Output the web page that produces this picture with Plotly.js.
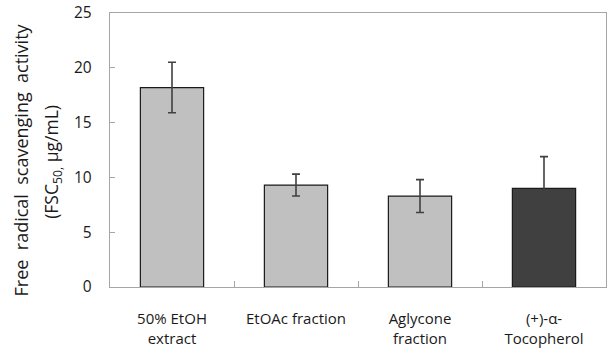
<!DOCTYPE html>
<html>
<head>
<meta charset="utf-8">
<script src="https://cdn.plot.ly/plotly-3.0.1.min.js"></script>
<style>html,body{margin:0;padding:0;background:#fff;}#chart{width:607px;height:351px;}</style>
</head>
<body>
<div id="chart"></div>
<script>
var categories = ["50% EtOH<br>extract", "EtOAc fraction", "Aglycone<br>fraction", "(+)-α-<br>Tocopherol"];
var values = [18.2, 9.3, 8.3, 9.0];
var errors = [2.3, 1.0, 1.5, 2.9];
var barColors = ["#c0c0c0", "#c0c0c0", "#c0c0c0", "#404040"];
var yTicks = [0, 5, 10, 15, 20, 25];
var titleLine1 = "Free  radical  scavenging  activity";
var titleLine2 = "(FSC<sub>50,</sub> μg/mL)";

var font = "Open Sans, Noto Sans, sans-serif";
var trace = {
  type: "bar",
  x: categories,
  y: values,
  marker: {color: barColors, line: {color: "#1a1a1a", width: 1.2}},
  error_y: {type: "data", array: errors, visible: true, color: "#404040", thickness: 1.6, width: 4},
  hoverinfo: "none"
};
var layout = {
  width: 607, height: 351,
  margin: {l: 110, r: 1, t: 13, b: 64},
  paper_bgcolor: "#fff", plot_bgcolor: "#fff",
  bargap: 0.49,
  showlegend: false,
  font: {family: font, size: 14, color: "#1a1a1a"},
  xaxis: {
    type: "category",
    showline: true, linecolor: "#a6a6a6", linewidth: 1.2, mirror: true,
    ticks: "inside", tickson: "boundaries", ticklen: 6, tickcolor: "#a6a6a6",
    tickfont: {family: font, size: 15, color: "#1a1a1a"},
    ticklabelstandoff: 18,
    showgrid: false, zeroline: false
  },
  yaxis: {
    range: [0, 25],
    tickvals: yTicks,
    showline: true, linecolor: "#a6a6a6", linewidth: 1.2, mirror: true,
    ticks: "inside", ticklen: 5, tickcolor: "#a6a6a6",
    tickfont: {family: font, size: 15.5, color: "#1a1a1a"},
    ticklabelstandoff: 14,
    showgrid: false, zeroline: false
  },
  annotations: [{
    xref: "paper", yref: "paper", x: -0.1794, y: 0.462, xanchor: "center", yanchor: "middle",
    textangle: -90, showarrow: false,
    text: titleLine1,
    font: {family: font, size: 18, color: "#1a1a1a"}
  }, {
    xref: "paper", yref: "paper", x: -0.1159, y: 0.455, xanchor: "center", yanchor: "middle",
    textangle: -90, showarrow: false,
    text: titleLine2,
    font: {family: font, size: 17.5, color: "#1a1a1a"}
  }]
};
Plotly.newPlot("chart", [trace], layout, {staticPlot: true});
</script>
</body>
</html>
